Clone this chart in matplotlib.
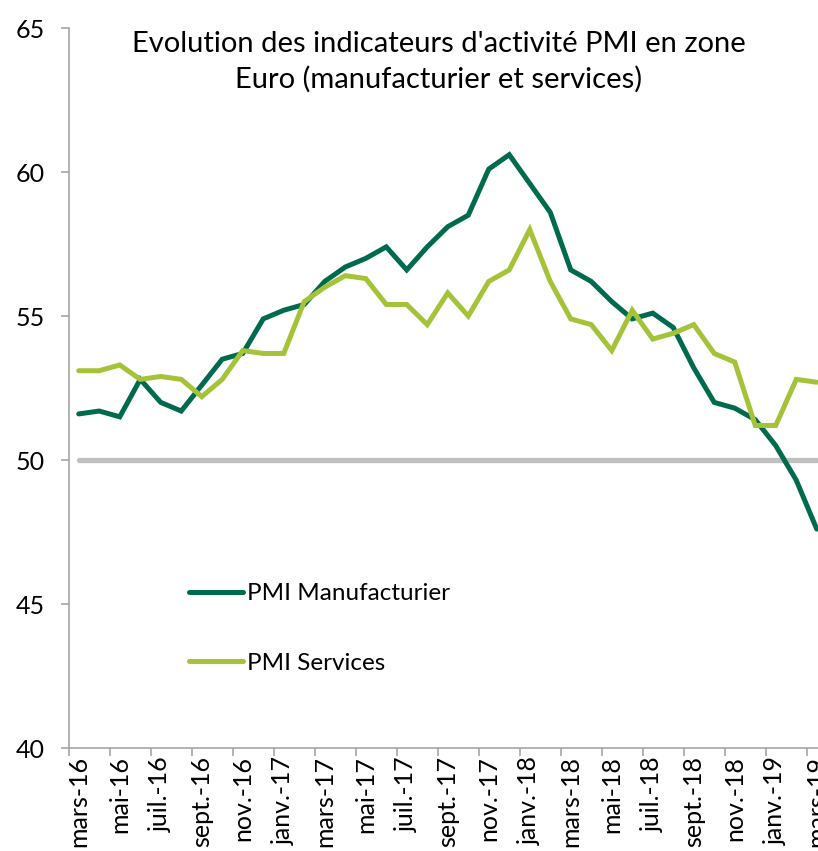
import matplotlib
matplotlib.use("Agg")
import matplotlib.pyplot as plt
from matplotlib.ticker import FixedLocator

plt.rcParams['font.family'] = ['Lato', 'DejaVu Sans']

months = ["mars-16", "avr.-16", "mai-16", "juin-16", "juil.-16", "août-16",
          "sept.-16", "oct.-16", "nov.-16", "déc.-16", "janv.-17", "févr.-17",
          "mars-17", "avr.-17", "mai-17", "juin-17", "juil.-17", "août-17",
          "sept.-17", "oct.-17", "nov.-17", "déc.-17", "janv.-18", "févr.-18",
          "mars-18", "avr.-18", "mai-18", "juin-18", "juil.-18", "août-18",
          "sept.-18", "oct.-18", "nov.-18", "déc.-18", "janv.-19", "févr.-19",
          "mars-19"]

pmi_manuf = [51.6, 51.7, 51.5, 52.8, 52.0, 51.7, 52.6, 53.5, 53.7, 54.9, 55.2, 55.4,
             56.2, 56.7, 57.0, 57.4, 56.6, 57.4, 58.1, 58.5, 60.1, 60.6, 59.6, 58.6,
             56.6, 56.2, 55.5, 54.9, 55.1, 54.6, 53.2, 52.0, 51.8, 51.4, 50.5, 49.3,
             47.6]

pmi_services = [53.1, 53.1, 53.3, 52.8, 52.9, 52.8, 52.2, 52.8, 53.8, 53.7, 53.7, 55.5,
                56.0, 56.4, 56.3, 55.4, 55.4, 54.7, 55.8, 55.0, 56.2, 56.6, 58.0, 56.2,
                54.9, 54.7, 53.8, 55.2, 54.2, 54.4, 54.7, 53.7, 53.4, 51.2, 51.2, 52.8,
                52.7]

threshold = [50] * len(months)

DARK = '#006A4E'
LIGHT = '#A5C339'
GREY = '#BFBFBF'
AXIS = '#A6A6A6'

fig = plt.figure(figsize=(8.18, 8.51), dpi=100)
ax = fig.add_axes([68.5 / 818, 1 - 748 / 851, 758.5 / 818, 720 / 851])

x = list(range(len(months)))
ax.plot(x, threshold, color=GREY, lw=3.8, solid_capstyle='round')
ax.plot(x, pmi_manuf, color=DARK, lw=3.6, solid_capstyle='round',
        solid_joinstyle='miter', label='PMI Manufacturier')
ax.plot(x, pmi_services, color=LIGHT, lw=3.6, solid_capstyle='round',
        solid_joinstyle='miter', label='PMI Services')

ax.set_xlim(-0.5, len(months) - 0.5)
ax.set_ylim(40, 65)
ax.set_yticks([40, 45, 50, 55, 60, 65])

# labels on every other month, tick marks between categories
ax.xaxis.set_major_locator(FixedLocator(x[::2]))
ax.set_xticklabels(months[::2], rotation=90)
ax.xaxis.set_minor_locator(FixedLocator([i - 0.5 for i in x[::2]] + [len(months) - 0.5]))
ax.tick_params(axis='x', which='major', length=0, pad=6, labelsize=18)
ax.tick_params(axis='x', which='minor', length=6, width=1.2, color=AXIS)
ax.tick_params(axis='y', length=6, width=1.2, color=AXIS, pad=11, labelsize=18)

for side in ['top', 'right']:
    ax.spines[side].set_visible(False)
for side in ['left', 'bottom']:
    ax.spines[side].set_color(AXIS)
    ax.spines[side].set_linewidth(1.2)

fig.text(439 / 818, 1 - 62 / 851,
         "Evolution des indicateurs d'activité PMI en zone\nEuro (manufacturier et services)",
         ha='center', va='center', fontsize=21, linespacing=1.4)

ax.legend(loc='upper left', bbox_to_anchor=(177 / 818, 1 - 571 / 851),
          bbox_transform=fig.transFigure, frameon=False, fontsize=17.5,
          handlelength=2.2, handletextpad=0.2, labelspacing=2.0, borderpad=0)

fig.savefig('out.png', dpi=100)
